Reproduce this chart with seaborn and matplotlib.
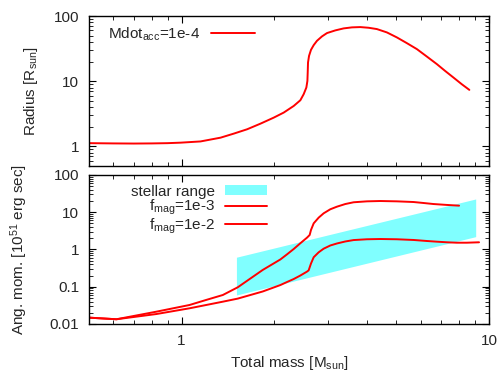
import numpy as np
import pandas as pd
import matplotlib
matplotlib.use('Agg')
import matplotlib.pyplot as plt
import seaborn as sns
from matplotlib.ticker import LogLocator, NullFormatter

# top panel: radius vs total mass
mass_r = [0.5, 0.6, 0.7, 0.8, 0.9, 0.993, 1.152, 1.339, 1.479, 1.634, 1.805, 1.994, 2.149,
          2.316, 2.434, 2.495, 2.546, 2.566, 2.572, 2.578, 2.598, 2.636, 2.690, 2.757,
          2.862, 2.972, 3.162, 3.365, 3.582, 3.813, 4.057, 4.318, 4.653, 5.015, 5.404,
          5.825, 6.277, 6.765, 7.195, 7.658, 8.151, 8.63]
radius = [1.12, 1.11, 1.105, 1.11, 1.12, 1.14, 1.19, 1.36, 1.57, 1.83, 2.23, 2.76, 3.30,
          4.17, 5.10, 6.31, 8.0, 10.1, 13.6, 19.4, 24.5, 30.3, 35.8, 41.7,
          48.7, 54.8, 60.2, 64.6, 67.0, 67.7, 66.1, 63.1, 56.1, 47.0, 38.4,
          31.1, 23.9, 18.3, 14.4, 11.4, 9.0, 7.36]

# bottom panel: angular momentum, f_mag = 1e-3
mass_j3 = [0.5, 0.614, 0.828, 1.062, 1.2, 1.362, 1.523, 1.836, 2.096, 2.203, 2.316, 2.434,
           2.559, 2.610, 2.636, 2.690, 2.792, 2.898, 3.046, 3.202, 3.408, 3.627, 4.008,
           4.428, 5.015, 5.681, 6.121, 6.597, 7.289, 7.991]
jang_3 = [0.0148, 0.0134, 0.0214, 0.0324, 0.044, 0.060, 0.0966, 0.282, 0.54, 0.741, 1.03, 1.47,
          2.08, 2.45, 3.34, 5.04, 7.16, 9.35, 12.0, 14.1, 16.6, 18.5, 19.6,
          20.0, 19.6, 18.8, 17.7, 16.6, 15.7, 15.0]

# bottom panel: angular momentum, f_mag = 1e-2
mass_j2 = [0.5, 0.614, 0.828, 1.062, 1.362, 1.523, 1.836, 2.096, 2.203, 2.316, 2.434, 2.559,
           2.59, 2.636, 2.690, 2.792, 2.898, 3.046, 3.202, 3.408, 3.627, 4.008, 4.428,
           5.015, 5.681, 6.277, 6.765, 7.289, 7.857, 8.467, 9.28]
jang_2 = [0.0148, 0.0134, 0.0185, 0.0264, 0.0397, 0.048, 0.0745, 0.111, 0.134, 0.161, 0.200,
          0.255, 0.275, 0.42, 0.62, 0.84, 1.05, 1.28, 1.45, 1.64, 1.79, 1.88, 1.91,
          1.88, 1.80, 1.69, 1.62, 1.56, 1.52, 1.52, 1.56]

# stellar range band
band_mass = [1.508, 9.05]
band_low = [0.060, 2.21]
band_high = [0.62, 22.7]

sns.set_style('ticks')
plt.rcParams['font.family'] = ['Liberation Sans', 'DejaVu Sans']
plt.rcParams['mathtext.fontset'] = 'custom'
plt.rcParams['mathtext.rm'] = 'Liberation Sans'
plt.rcParams['mathtext.it'] = 'Liberation Sans:italic'
plt.rcParams['font.size'] = 11
plt.rcParams['axes.linewidth'] = 1.0
plt.rcParams['axes.edgecolor'] = 'black'

fig = plt.figure(figsize=(4.99, 3.73), dpi=100)
ax1 = fig.add_axes([0.1784, 0.555, 0.8016, 0.402])
ax2 = fig.add_axes([0.1784, 0.1314, 0.8016, 0.3995])

df_r = pd.DataFrame({'mass': mass_r, 'radius': radius})
sns.lineplot(data=df_r, x='mass', y='radius', ax=ax1, color='red', lw=1.4,
             sort=False, estimator=None, label=r'Mdot$_{\mathrm{acc}}$=1e-4')

ax2.fill_between(band_mass, band_low, band_high, color='#80FFFF', lw=0,
                 label='stellar range')
df3 = pd.DataFrame({'mass': mass_j3, 'J': jang_3})
df2 = pd.DataFrame({'mass': mass_j2, 'J': jang_2})
sns.lineplot(data=df3, x='mass', y='J', ax=ax2, color='red', lw=1.4,
             sort=False, estimator=None, label=r'f$_{\mathrm{mag}}$=1e-3')
sns.lineplot(data=df2, x='mass', y='J', ax=ax2, color='red', lw=1.4,
             sort=False, estimator=None, label=r'f$_{\mathrm{mag}}$=1e-2')

for ax in (ax1, ax2):
    ax.set_xscale('log')
    ax.set_yscale('log')
    ax.set_xlim(0.5, 10)
    ax.xaxis.set_major_locator(LogLocator(base=10))
    ax.xaxis.set_minor_locator(LogLocator(base=10, subs=range(2, 10)))
    ax.xaxis.set_minor_formatter(NullFormatter())
    ax.yaxis.set_minor_locator(LogLocator(base=10, subs=range(2, 10), numticks=20))
    ax.yaxis.set_minor_formatter(NullFormatter())
    ax.tick_params(which='both', direction='in', top=True, right=True, color='black')
    ax.tick_params(which='major', length=5, width=0.8, pad=7, labelsize=11)
    ax.tick_params(which='minor', length=3, width=0.6)
    ax.set_xlabel('')

ax1.set_ylim(0.5, 100)
ax1.set_yticks([1, 10, 100], ['1', '10', '100'])
ax1.set_xticks([1, 10], ['', ''])
ax1.set_ylabel(r'Radius [R$_{\mathrm{sun}}$]')
ax1.yaxis.set_label_coords(-0.1225, 0.5)

ax2.set_ylim(0.01, 100)
ax2.set_yticks([0.01, 0.1, 1, 10, 100], ['0.01', '0.1', '1', '10', '100'])
ax2.set_xticks([1, 10], ['1', '10'])
ax2.set_ylabel(r'Ang. mom. [10$^{51}$ erg sec]')
ax2.yaxis.set_label_coords(-0.1475, 0.5)
ax2.set_xlabel(r'Total mass [M$_{\mathrm{sun}}$]')
ax2.xaxis.set_label_coords(0.5, -0.202)

ax1.legend(loc='upper left', bbox_to_anchor=(0.0475, 0.937), frameon=False,
           markerfirst=False, handlelength=2.85, handletextpad=0.72,
           borderpad=0, borderaxespad=0, fontsize=11)
ax2.legend(loc='upper right', bbox_to_anchor=(0.445, 0.935), frameon=False,
           markerfirst=False, handlelength=2.75, handletextpad=0.65, handleheight=0.6,
           borderpad=0, borderaxespad=0, labelspacing=-0.05, fontsize=11)

fig.savefig('out.png', dpi=100)
